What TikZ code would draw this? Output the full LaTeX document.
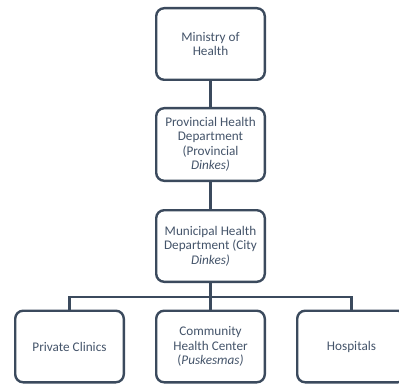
\documentclass[tikz,border=0pt]{standalone}
\usepackage{fontspec}
\setmainfont{Carlito}
\definecolor{linec}{HTML}{3B4A5D}
\definecolor{textc}{HTML}{44546A}
\begin{document}
\begin{tikzpicture}[x=1pt,y=-1pt,
  orgbox/.style={draw=linec, line width=2.4pt, rounded corners=8pt, fill=white,
    minimum width=108.6pt, minimum height=71.6pt, align=center, text=textc,
    font=\fontsize{13.2}{14.4}\selectfont, inner sep=1pt},
  conn/.style={draw=linec, line width=2.4pt}]
\useasboundingbox (0,0) rectangle (399,385);
\clip (0,0) rectangle (399,385);
\node[orgbox] (moh) at (210.5,44) {Ministry of\\Health};
\node[orgbox, minimum height=72.6pt] (prov) at (210.5,144.5) {Provincial Health\\Department\\(Provincial\\\textit{Dinkes)}};
\node[orgbox] (city) at (210.5,246) {Municipal Health\\Department (City\\\textit{Dinkes)}};
\node[orgbox] (priv) at (69.5,346.5) {Private Clinics};
\node[orgbox] (puske) at (210.5,346.5) {Community\\Health Center\\(\textit{Puskesmas)}};
\node[orgbox] (hosp) at (351.5,346.5) {Hospitals};
\coordinate (bus) at (210.5,297);
\draw[conn] (moh.south) -- (prov.north);
\draw[conn] (prov.south) -- (city.north);
\draw[conn] (city.south) -- (puske.north);
\draw[conn] (priv.north) |- (bus) -| (hosp.north);
\end{tikzpicture}
\end{document}
